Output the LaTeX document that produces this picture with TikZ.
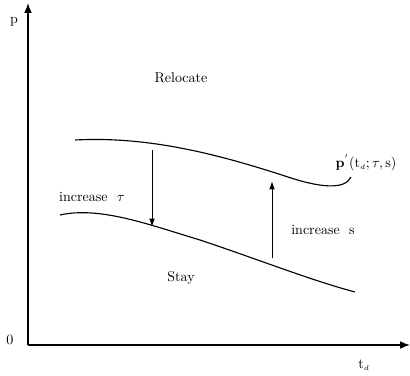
\documentclass[tikz,border=0pt]{standalone}
\usepackage{amsmath}
\usepackage{amssymb}
\usetikzlibrary{arrows.meta,positioning}

\begin{document}
\begin{tikzpicture}[x=0.025cm, y=-0.025cm, >={Latex[length=7pt,width=5.5pt]},
    lbl/.style={font=\normalsize, inner sep=1pt},
    axis/.style={line width=1pt,->},
    curve/.style={line width=0.8pt},
    ar/.style={line width=0.7pt,-{Latex[length=6pt,width=4pt]}}]
    \useasboundingbox (0,0) rectangle (410,376);
    \coordinate (orig) at (28,345);
    \coordinate (ytop) at (28,3);
    \coordinate (xend) at (410,345);
    \node [lbl] (plab) at (14,22) {p};
    \node [lbl] (zero) at (10,340) {0};
    \node [lbl] (tlab) at (364,365) {$\mathrm{t}_{\scriptscriptstyle d}$};
    \node [lbl] (reloc) at (181,78) {Relocate};
    \node [lbl] (stay) at (181,278) {Stay};
    \node [lbl] (pstar) at (366,163) {$\mathbf{p}^{'}(\mathrm{t}_{\scriptscriptstyle d};\tau,\mathrm{s})$};
    \node [lbl] (inctau) at (92,197) {increase\ \ $\tau$};
    \node [lbl] (incs) at (323,230) {increase\ \ s};
    \coordinate (tautop) at (152,150);
    \coordinate (taubot) at (152,227);
    \coordinate (sbot) at (272,258);
    \coordinate (stop) at (272,181);
    \draw [axis] (orig) -- (ytop);
    \draw [axis] (orig) -- (xend);
    % boundary before and after the change
    \draw [curve] (75,140) .. controls (150,136) and (220,155) .. (285,176)
        .. controls (320,188) and (345,190) .. (351,177);
    \draw [curve] (60,215) .. controls (100,206) and (150,225) .. (200,240)
        .. controls (260,260) and (310,280) .. (355,292);
    \draw [ar] (tautop) -- (taubot);
    \draw [ar] (sbot) -- (stop);
\end{tikzpicture}
\end{document}
